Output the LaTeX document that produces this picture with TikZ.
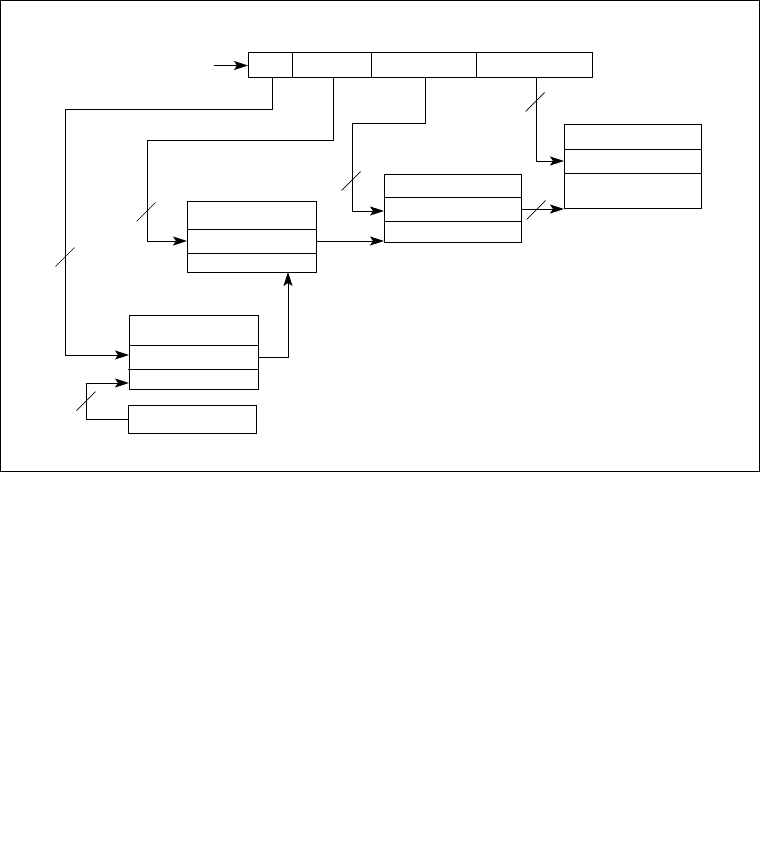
\documentclass[tikz,border=0pt]{standalone}
\usetikzlibrary{arrows.meta}
\tikzset{
  box/.style={draw, line width=1pt, inner sep=0pt, outer sep=0pt, anchor=north west},
  wire/.style={line width=1pt, -{Stealth[length=14pt, width=9pt, inset=3pt]}},
  rule/.style={line width=1pt},
  slash/.style={line width=0.7pt}
}
\begin{document}
\begin{tikzpicture}[x=1pt, y=-1pt]
    \useasboundingbox (0,0) rectangle (760,848);
    \draw[rule] (0.5,0.5) rectangle (759,471);
    % register with four fields
    \node[box, minimum width=344pt, minimum height=25pt] (reg) at (248,53) {};
    \foreach \x in {292,371,476} \draw[rule] (\x,53) -- (\x,78);
    \coordinate (f1) at (272,78);
    \coordinate (f2) at (333,78);
    \coordinate (f3) at (425,78);
    \coordinate (f4) at (536,78);
    \coordinate (in) at (214,65.5);
    % tables
    \node[box, minimum width=137pt, minimum height=83pt] (R) at (564,125) {};
    \draw[rule] (564,149) -- (701,149);
    \draw[rule] (564,173) -- (701,173);
    \node[box, minimum width=137pt, minimum height=68pt] (M) at (384,174) {};
    \draw[rule] (384,197) -- (521,197);
    \draw[rule] (384,221) -- (521,221);
    \node[box, minimum width=129pt, minimum height=71pt] (L) at (187,201) {};
    \draw[rule] (187,229) -- (316,229);
    \draw[rule] (187,253) -- (316,253);
    \node[box, minimum width=129pt, minimum height=74pt] (B) at (129,315) {};
    \draw[rule] (129,345) -- (258,345);
    \draw[rule] (128,369) -- (258,369);
    \node[box, minimum width=128pt, minimum height=28pt] (S) at (128,405) {};
    % connectors
    \draw[wire] (in) -- (reg.west);
    \draw[wire] (f1) -- (272,110) -- (65,110) -- (65,355) -- (B.west |- 0,355);
    \draw[wire] (f2) -- (333,140) -- (147,140) -- (147,241) -- (L.west |- 0,241);
    \draw[wire] (f3) -- (425,124) -- (352,124) -- (352,211) -- (M.west |- 0,211);
    \draw[wire] (f4) -- (536,161) -- (R.west |- 0,161);
    \draw[wire] (L.east |- 0,241) -- (M.west |- 0,241);
    \draw[wire] (M.east |- 0,209) -- (R.west |- 0,209);
    \draw[wire] (B.east |- 0,357) -- (288,357) -- (L.south -| 288,0);
    \draw[wire] (S.west) -- (86,419) -- (86,383) -- (B.west |- 0,383);
    % bus width marks
    \foreach \p in {(65,257),(146,212),(351,181),(535,102),(536,210),(86,401)}
        \draw[slash] \p +(-9.5,9.5) -- +(9.5,-9.5);
\end{tikzpicture}
\end{document}
